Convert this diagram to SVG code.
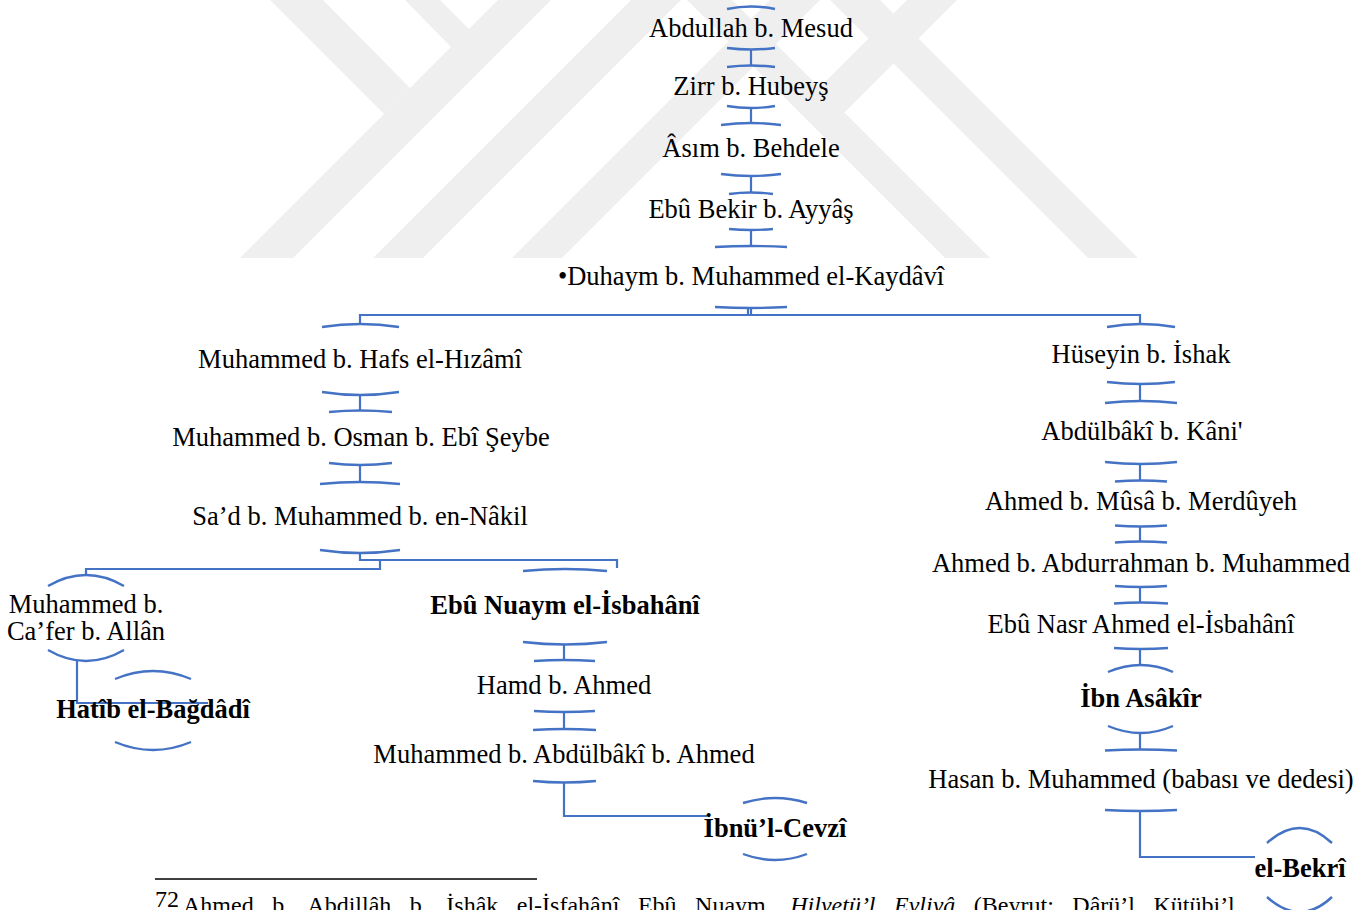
<svg xmlns="http://www.w3.org/2000/svg" width="1371" height="910" viewBox="0 0 1371 910">
  <style>
    .wm { fill: #efefef; }
    .cap { fill: none; stroke: #4472c4; stroke-width: 2.4; stroke-linecap: butt; }
    .link { fill: none; stroke: #4472c4; stroke-width: 2.2; }
    .name { font-family: "Liberation Serif", "Times New Roman", serif; font-size: 26.5px; fill: #000; text-anchor: middle; }
    .bold { font-weight: bold; }
    .note { font-family: "Liberation Serif", "Times New Roman", serif; font-size: 24px; fill: #000; }
  </style>

  <rect width="1371" height="910" fill="#ffffff"/>

  <!-- background watermark bands -->
  <g id="watermark">
    <polygon class="wm" points="240,258 293,258 551,0 498,0"/>
    <polygon class="wm" points="270,0 323,0 410,88 384,114"/>
    <polygon class="wm" points="405,0 440,0 470,30 452,48"/>
    <polygon class="wm" points="373,258 423,258 681,0 631,0"/>
    <polygon class="wm" points="512,258 562,258 820,0 770,0"/>
    <polygon class="wm" points="945,258 990,258 732,0 687,0"/>
    <polygon class="wm" points="907,0 957,0 845,112 797,110"/>
    <polygon class="wm" points="1088,258 1138,258 880,0 830,0"/>
  </g>

  <!-- connectors -->
  <g id="connectors">
    <path class="link" d="M751,49 V65"/>
    <path class="link" d="M751,108 V123"/>
    <path class="link" d="M751,176 V192"/>
    <path class="link" d="M751,230 V246"/>
    <path class="link" d="M751,308 V315 H360 V324"/>
    <path class="link" d="M748,308 V315 H1140 V324"/>
    <path class="link" d="M360,395 V410"/>
    <path class="link" d="M360,465 V482"/>
    <path class="link" d="M360,553 V560 H617 V568"/>
    <path class="link" d="M380,560 V569 H86 V576"/>
    <path class="link" d="M77,661 V703 H208"/>
    <path class="link" d="M564,644 V660"/>
    <path class="link" d="M564,712 V729"/>
    <path class="link" d="M564,782 V816 H707"/>
    <path class="link" d="M1140,384 V401"/>
    <path class="link" d="M1140,464 V480"/>
    <path class="link" d="M1140,527 V541"/>
    <path class="link" d="M1140,587 V602"/>
    <path class="link" d="M1140,649 V665"/>
    <path class="link" d="M1140,733 V749"/>
    <path class="link" d="M1140,811 V857 H1255"/>
  </g>

  <!-- central chain -->
  <g id="n-abdullah">
    <path class="cap" d="M727,9 Q751,4 775,9"/>
    <text class="name" x="751" y="37">Abdullah b. Mesud</text>
    <path class="cap" d="M727,48 Q751,51 775,48"/>
  </g>
  <g id="n-zirr">
    <path class="cap" d="M727,67 Q751,64 775,67"/>
    <text class="name" x="751" y="95">Zirr b. Hubeyş</text>
    <path class="cap" d="M727,106 Q751,110 775,106"/>
  </g>
  <g id="n-asim">
    <path class="cap" d="M721,125 Q751,121 781,125"/>
    <text class="name" x="751" y="157">Âsım b. Behdele</text>
    <path class="cap" d="M721,174 Q751,178 781,174"/>
  </g>
  <g id="n-ebubekir">
    <path class="cap" d="M729,194 Q751,191 773,194"/>
    <text class="name" x="751" y="218">Ebû Bekir b. Ayyâş</text>
    <path class="cap" d="M729,229 Q751,231 773,229"/>
  </g>
  <g id="n-duhaym">
    <path class="cap" d="M715,247 Q751,245 787,247"/>
    <text class="name" x="751" y="285">•Duhaym b. Muhammed el-Kaydâvî</text>
    <path class="cap" d="M715,307 Q751,309 787,307"/>
  </g>

  <!-- left branch -->
  <g id="n-hizami">
    <path class="cap" d="M322,327 Q360,321 399,327"/>
    <text class="name" x="360" y="368">Muhammed b. Hafs el-Hızâmî</text>
    <path class="cap" d="M322,392 Q360,398 399,392"/>
  </g>
  <g id="n-ebiseybe">
    <path class="cap" d="M329,412 Q360,409 392,412"/>
    <text class="name" x="361" y="446">Muhammed b. Osman b. Ebî Şeybe</text>
    <path class="cap" d="M329,463 Q360,467 392,463"/>
  </g>
  <g id="n-nakil">
    <path class="cap" d="M320,484 Q360,480 400,484"/>
    <text class="name" x="360" y="525">Sa’d b. Muhammed b. en-Nâkil</text>
    <path class="cap" d="M320,550 Q360,556 400,550"/>
  </g>
  <g id="n-allan">
    <path class="cap" d="M48,586 Q86,564 124,586"/>
    <text class="name" x="86" y="613">Muhammed b.</text>
    <text class="name" x="86" y="640">Ca’fer b. Allân</text>
    <path class="cap" d="M48,650 Q86,672 124,650"/>
  </g>
  <g id="n-hatib">
    <path class="cap" d="M115,679 Q153,663 191,679"/>
    <text class="name bold" x="153" y="718">Hatîb el-Bağdâdî</text>
    <path class="cap" d="M115,742 Q153,758 191,742"/>
  </g>
  <g id="n-ebunuaym">
    <path class="cap" d="M523,571 Q565,567 607,571"/>
    <text class="name bold" x="565" y="614">Ebû Nuaym el-İsbahânî</text>
    <path class="cap" d="M523,642 Q565,647 607,642"/>
  </g>
  <g id="n-hamd">
    <path class="cap" d="M534,661 Q564,659 595,661"/>
    <text class="name" x="564" y="694">Hamd b. Ahmed</text>
    <path class="cap" d="M534,711 Q564,713 595,711"/>
  </g>
  <g id="n-abdulbaki-ahmed">
    <path class="cap" d="M533,730 Q564,728 596,730"/>
    <text class="name" x="564" y="763">Muhammed b. Abdülbâkî b. Ahmed</text>
    <path class="cap" d="M533,781 Q564,784 596,781"/>
  </g>
  <g id="n-cevzi">
    <path class="cap" d="M743,803 Q775,793 807,803"/>
    <text class="name bold" x="775" y="837">İbnü’l-Cevzî</text>
    <path class="cap" d="M743,854 Q775,866 807,854"/>
  </g>

  <!-- right branch -->
  <g id="n-huseyin">
    <path class="cap" d="M1107,327 Q1141,321 1175,327"/>
    <text class="name" x="1141" y="363">Hüseyin b. İshak</text>
    <path class="cap" d="M1107,382 Q1141,386 1175,382"/>
  </g>
  <g id="n-kani">
    <path class="cap" d="M1105,403 Q1141,399 1177,403"/>
    <text class="name" x="1142" y="440">Abdülbâkî b. Kâni'</text>
    <path class="cap" d="M1105,462 Q1141,466 1177,462"/>
  </g>
  <g id="n-merduyeh">
    <path class="cap" d="M1115,481.5 Q1141,479.5 1167,481.5"/>
    <text class="name" x="1141" y="510">Ahmed b. Mûsâ b. Merdûyeh</text>
    <path class="cap" d="M1115,525.5 Q1141,527.5 1167,525.5"/>
  </g>
  <g id="n-abdurrahman">
    <path class="cap" d="M1115,542.5 Q1141,540.5 1167,542.5"/>
    <text class="name" x="1141" y="572">Ahmed b. Abdurrahman b. Muhammed</text>
    <path class="cap" d="M1115,586 Q1141,588 1167,586"/>
  </g>
  <g id="n-ebunasr">
    <path class="cap" d="M1114,603.5 Q1141,601.5 1168,603.5"/>
    <text class="name" x="1141" y="633">Ebû Nasr Ahmed el-İsbahânî</text>
    <path class="cap" d="M1114,648 Q1141,650 1168,648"/>
  </g>
  <g id="n-ibnasakir">
    <path class="cap" d="M1108,672 Q1141,658 1173,672"/>
    <text class="name bold" x="1141" y="707">İbn Asâkîr</text>
    <path class="cap" d="M1108,726 Q1141,740 1173,726"/>
  </g>
  <g id="n-hasan">
    <path class="cap" d="M1105,750.5 Q1141,748.5 1177,750.5"/>
    <text class="name" x="1141" y="788">Hasan b. Muhammed (babası ve dedesi)</text>
    <path class="cap" d="M1105,810 Q1141,812 1177,810"/>
  </g>
  <g id="n-bekri">
    <path class="cap" d="M1267,843 Q1300,813 1332,843"/>
    <text class="name bold" x="1300" y="877">el-Bekrî</text>
    <path class="cap" d="M1267,897 Q1300,927 1332,897"/>
  </g>

  <!-- footnote -->
  <line x1="155" y1="879" x2="537" y2="879" stroke="#000" stroke-width="1.5"/>
  <text class="note" x="155" y="907" font-size="15">72</text>
  <text class="note" x="183" y="913" word-spacing="12.5">Ahmed b. Abdillâh b. İshâk el-İsfahânî Ebû Nuaym, <tspan font-style="italic">Hilyetü’l Evliyâ</tspan> (Beyrut: Dârü’l Kütübi’l</text>
</svg>
